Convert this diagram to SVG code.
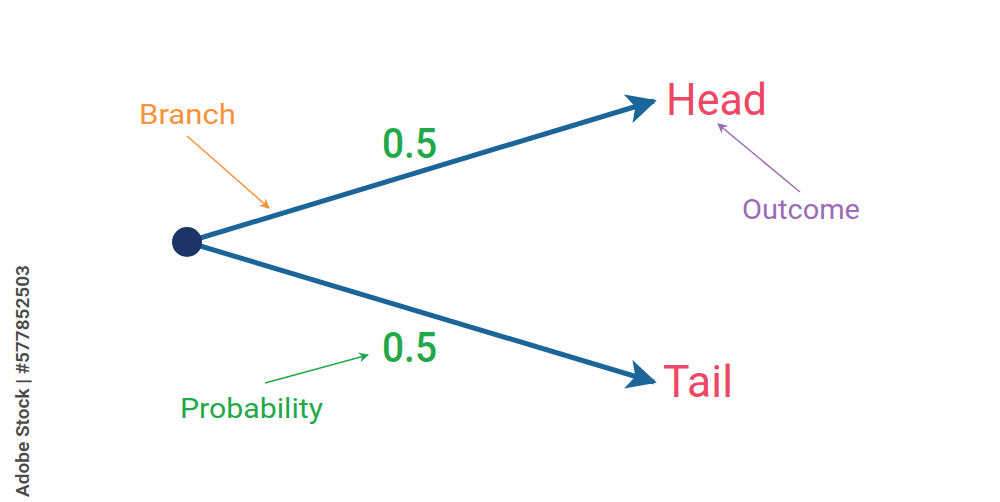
<svg xmlns="http://www.w3.org/2000/svg" width="1000" height="502" viewBox="0 0 1000 502">
<defs>
<style>
text{font-family:Roboto,"Noto Sans","Liberation Sans",sans-serif}
.outcome{fill:#ee4866;font-size:45px}
.prob{fill:#22a84a;font-size:43px;font-weight:500}
.lbl{font-size:28px}
.branch{stroke:#1b6599;stroke-width:5;fill:none}
</style>
<marker id="bigArrow" viewBox="0 0 10 10" refX="9" refY="5" markerWidth="6" markerHeight="6" markerUnits="strokeWidth" orient="auto">
<path d="M0,0 L10,5 L0,10 L2.5,5 Z" fill="#1b6599"/>
</marker>
<marker id="orangeArrow" viewBox="0 0 10 10" refX="9" refY="5" markerWidth="10" markerHeight="10" markerUnits="userSpaceOnUse" orient="auto">
<path d="M0,0 L10,5 L0,10 L3,5 Z" fill="#f7923a"/>
</marker>
<marker id="purpleArrow" viewBox="0 0 10 10" refX="9" refY="5" markerWidth="10" markerHeight="10" markerUnits="userSpaceOnUse" orient="auto">
<path d="M0,0 L10,5 L0,10 L3,5 Z" fill="#9b6bb6"/>
</marker>
<marker id="greenArrow" viewBox="0 0 10 10" refX="9" refY="5" markerWidth="10" markerHeight="10" markerUnits="userSpaceOnUse" orient="auto">
<path d="M0,0 L10,5 L0,10 L3,5 Z" fill="#22a84a"/>
</marker>
</defs>
<rect width="1000" height="502" fill="#ffffff"/>
<g id="connectors">
<line class="branch" x1="187" y1="242" x2="654" y2="101" marker-end="url(#bigArrow)"/>
<line class="branch" x1="187" y1="242" x2="654" y2="382" marker-end="url(#bigArrow)"/>
<line x1="187" y1="136" x2="269" y2="208" stroke="#f7923a" stroke-width="1.5" marker-end="url(#orangeArrow)"/>
<line x1="800" y1="192" x2="718" y2="124" stroke="#9b6bb6" stroke-width="1.5" marker-end="url(#purpleArrow)"/>
<line x1="265" y1="383" x2="368" y2="355" stroke="#22a84a" stroke-width="1.5" marker-end="url(#greenArrow)"/>
</g>
<g id="root"><circle cx="187" cy="242" r="15" fill="#1c3566"/></g>
<g id="head"><text class="outcome" x="666" y="115" textLength="101" lengthAdjust="spacingAndGlyphs">Head</text></g>
<g id="tail"><text class="outcome" x="663" y="397" textLength="70" lengthAdjust="spacingAndGlyphs">Tail</text></g>
<g id="prob-upper"><text class="prob" x="382" y="158" textLength="55" lengthAdjust="spacingAndGlyphs">0.5</text></g>
<g id="prob-lower"><text class="prob" x="382" y="362" textLength="55" lengthAdjust="spacingAndGlyphs">0.5</text></g>
<g id="label-branch"><text class="lbl" x="139" y="124" fill="#f7923a" textLength="97" lengthAdjust="spacingAndGlyphs">Branch</text></g>
<g id="label-outcome"><text class="lbl" x="742" y="219" fill="#9b6bb6" textLength="118" lengthAdjust="spacingAndGlyphs">Outcome</text></g>
<g id="label-probability"><text class="lbl" x="180" y="418" fill="#22a84a" textLength="143" lengthAdjust="spacingAndGlyphs">Probability</text></g>
<g id="watermark"><text x="0" y="0" transform="translate(29,497) rotate(-90)" font-size="18" font-weight="600" fill="#4a4a4a" font-family="'Open Sans',sans-serif" textLength="232" lengthAdjust="spacingAndGlyphs">Adobe Stock | #577852503</text></g>
</svg>
